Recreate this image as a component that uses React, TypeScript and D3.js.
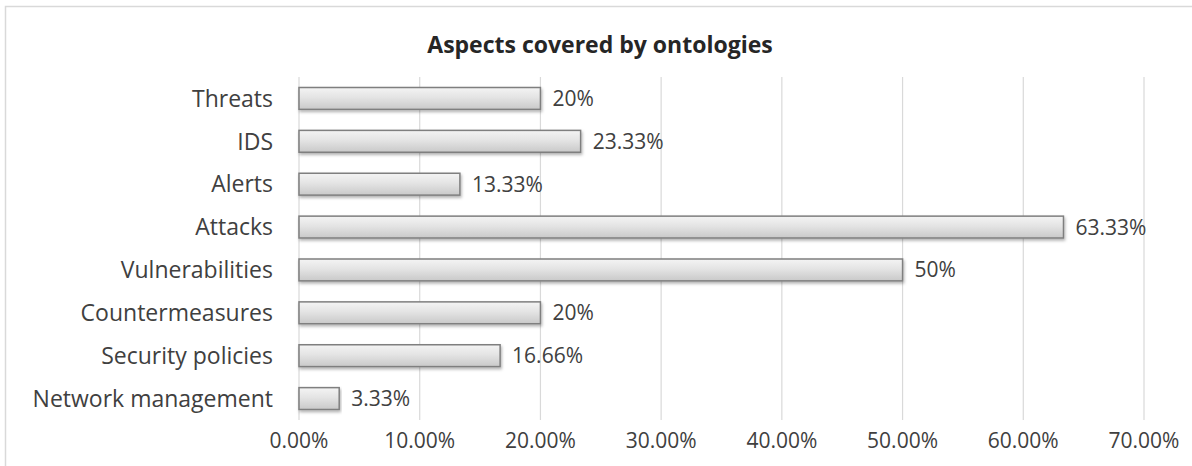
import { useEffect, useRef } from "react";
import * as d3 from "d3";

const categories = [
  "Threats",
  "IDS",
  "Alerts",
  "Attacks",
  "Vulnerabilities",
  "Countermeasures",
  "Security policies",
  "Network management",
];
const values = [20, 23.33, 13.33, 63.33, 50, 20, 16.66, 3.33];
const valueLabels = ["20%", "23.33%", "13.33%", "63.33%", "50%", "20%", "16.66%", "3.33%"];
const ticks = [0, 10, 20, 30, 40, 50, 60, 70];

export default function App() {
  const svgRef = useRef<SVGSVGElement>(null);

  useEffect(() => {
    if (!svgRef.current) return;
    const width = 1192;
    const height = 466;
    const margin = { top: 77, right: 48, bottom: 46, left: 299 };
    const font = "'Open Sans', sans-serif";

    const svg = d3.select(svgRef.current);
    svg.selectAll("*").remove();
    svg.attr("width", width).attr("height", height);

    const defs = svg.append("defs");
    const grad = defs
      .append("linearGradient")
      .attr("id", "barGrad")
      .attr("x1", 0)
      .attr("y1", 0)
      .attr("x2", 0)
      .attr("y2", 1);
    grad.append("stop").attr("offset", "0%").attr("stop-color", "#f4f4f4");
    grad.append("stop").attr("offset", "45%").attr("stop-color", "#e4e4e4");
    grad.append("stop").attr("offset", "100%").attr("stop-color", "#c9c9c9");
    const shadow = defs.append("filter").attr("id", "shadow").attr("x", "-5%").attr("y", "-30%").attr("width", "110%").attr("height", "180%");
    shadow
      .append("feDropShadow")
      .attr("dx", 1)
      .attr("dy", 2)
      .attr("stdDeviation", 1.5)
      .attr("flood-color", "#000")
      .attr("flood-opacity", 0.3);

    // chart frame
    svg
      .append("rect")
      .attr("x", 5.5)
      .attr("y", 6.5)
      .attr("width", width + 20)
      .attr("height", height + 20)
      .attr("fill", "#fff")
      .attr("stroke", "#d9d9d9")
      .attr("stroke-width", 1.5);

    const x = d3
      .scaleLinear()
      .domain([0, 70])
      .range([margin.left, width - margin.right]);
    const y = d3
      .scaleBand()
      .domain(categories)
      .range([margin.top, height - margin.bottom])
      .paddingInner(0.49)
      .paddingOuter(0.245);

    // gridlines
    svg
      .append("g")
      .selectAll("line")
      .data(ticks)
      .join("line")
      .attr("x1", (d) => x(d))
      .attr("x2", (d) => x(d))
      .attr("y1", margin.top)
      .attr("y2", height - margin.bottom)
      .attr("stroke", "#d9d9d9")
      .attr("stroke-width", 1.2);

    // tick labels
    svg
      .append("g")
      .selectAll("text")
      .data(ticks)
      .join("text")
      .attr("x", (d) => x(d))
      .attr("y", 448)
      .attr("text-anchor", "middle")
      .attr("font-family", font)
      .attr("font-size", 21)
      .attr("fill", "#404040")
      .text((d) => d.toFixed(2) + "%");

    // bars
    svg
      .append("g")
      .selectAll("rect")
      .data(values)
      .join("rect")
      .attr("x", x(0))
      .attr("y", (_, i) => y(categories[i])!)
      .attr("width", (d) => x(d) - x(0))
      .attr("height", y.bandwidth())
      .attr("fill", "url(#barGrad)")
      .attr("stroke", "#7f7f7f")
      .attr("stroke-width", 1.5)
      .attr("filter", "url(#shadow)");

    // value labels
    svg
      .append("g")
      .selectAll("text")
      .data(values)
      .join("text")
      .attr("x", (d) => x(d) + 12)
      .attr("y", (_, i) => y(categories[i])! + y.bandwidth() / 2)
      .attr("dy", "0.36em")
      .attr("font-family", font)
      .attr("font-size", 21)
      .attr("fill", "#404040")
      .text((_, i) => valueLabels[i]);

    // category labels
    svg
      .append("g")
      .selectAll("text")
      .data(categories)
      .join("text")
      .attr("x", 273)
      .attr("y", (d) => y(d)! + y.bandwidth() / 2)
      .attr("dy", "0.36em")
      .attr("text-anchor", "end")
      .attr("font-family", font)
      .attr("font-size", 23)
      .attr("fill", "#404040")
      .text((d) => d);

    // title
    svg
      .append("text")
      .attr("x", 600)
      .attr("y", 53)
      .attr("text-anchor", "middle")
      .attr("font-family", font)
      .attr("font-weight", "bold")
      .attr("font-size", 23)
      .attr("fill", "#262626")
      .text("Aspects covered by ontologies");
  }, []);

  return (
    <div style={{ position: "absolute", left: 0, top: 0 }}>
      <svg ref={svgRef} style={{ display: "block" }} />
    </div>
  );
}
